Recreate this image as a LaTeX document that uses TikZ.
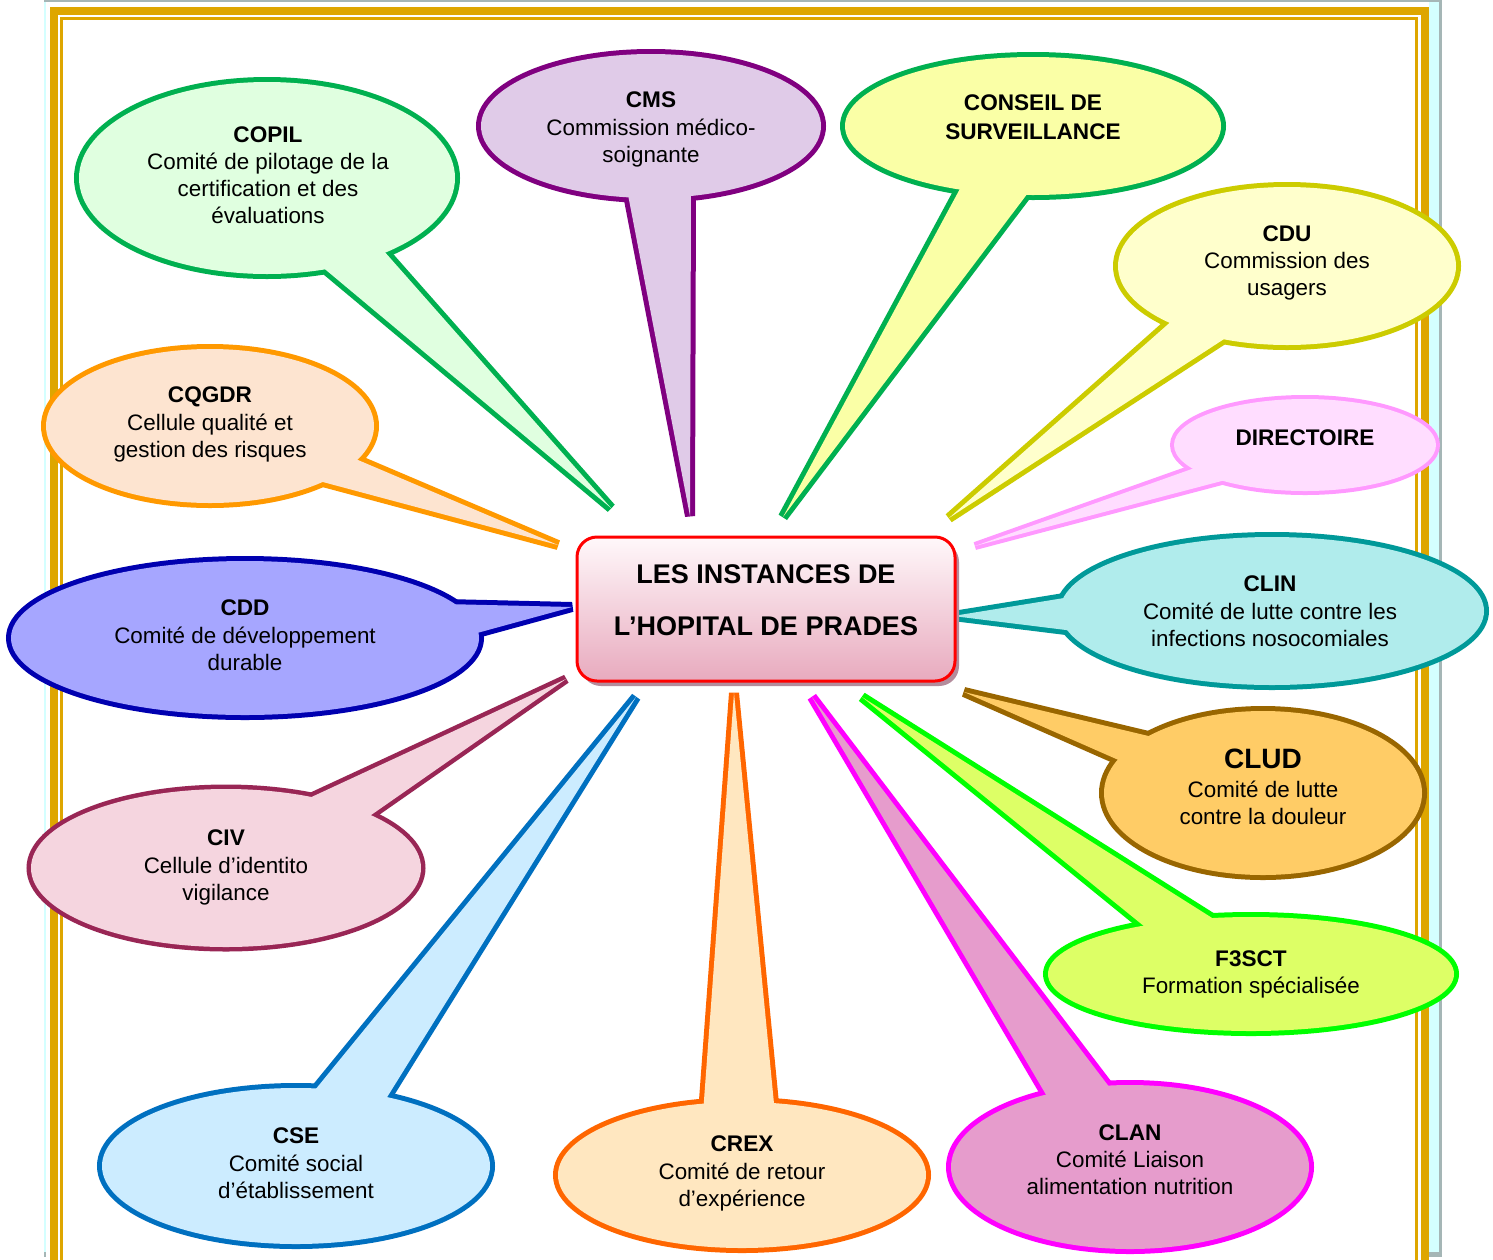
\documentclass[tikz,border=0pt]{standalone}
\usepackage{fontspec}
\setmainfont{Liberation Sans}
\usetikzlibrary{calc,shadows}

\definecolor{gold}{RGB}{222,166,0}
\definecolor{pagecyan}{RGB}{212,255,255}
\definecolor{pagegray}{RGB}{165,182,182}
\definecolor{cGreen}{RGB}{0,176,80}
\definecolor{fCopil}{RGB}{224,255,224}
\definecolor{cPurple}{RGB}{128,0,128}
\definecolor{fCms}{RGB}{224,203,232}
\definecolor{fConseil}{RGB}{250,255,166}
\definecolor{cCdu}{RGB}{204,204,0}
\definecolor{fCdu}{RGB}{255,255,204}
\definecolor{cDir}{RGB}{255,153,255}
\definecolor{fDir}{RGB}{255,221,255}
\definecolor{cClin}{RGB}{0,153,153}
\definecolor{fClin}{RGB}{176,236,236}
\definecolor{cClud}{RGB}{153,102,0}
\definecolor{fClud}{RGB}{255,204,102}
\definecolor{cF3}{RGB}{0,255,0}
\definecolor{fF3}{RGB}{221,255,102}
\definecolor{cClan}{RGB}{255,0,255}
\definecolor{fClan}{RGB}{230,156,204}
\definecolor{cCrex}{RGB}{255,102,0}
\definecolor{fCrex}{RGB}{255,231,192}
\definecolor{cCse}{RGB}{0,112,192}
\definecolor{fCse}{RGB}{204,236,255}
\definecolor{cCiv}{RGB}{153,38,85}
\definecolor{fCiv}{RGB}{245,213,223}
\definecolor{cCdd}{RGB}{0,0,176}
\definecolor{fCdd}{RGB}{166,166,255}
\definecolor{cCq}{RGB}{255,153,0}
\definecolor{fCq}{RGB}{253,228,208}
\definecolor{hubTop}{RGB}{255,248,250}
\definecolor{hubBot}{RGB}{232,170,190}
\definecolor{hubShadow}{RGB}{180,140,156}

% #1 centre, #2 rx, #3 ry, #4 tip, #5 #6 base angles, #7 stroke, #8 fill, #9 doubled width
\newcommand\bubble[9]{%
  \coordinate (bA) at ($#1+({#2*cos(#5)},{#3*sin(#5)})$);
  \coordinate (bB) at ($#1+({#2*cos(#6)},{#3*sin(#6)})$);
  \coordinate (qA) at ($#4!1.15!(bA)$);
  \coordinate (qB) at ($#4!1.15!(bB)$);
  \draw[draw=#7, line width=#9] #1 ellipse[x radius=#2, y radius=#3];
  \draw[draw=#7, line width=#9, line join=bevel] #4 -- (qA) -- (qB) -- cycle;
  \fill[#8] #4 -- (qA) -- (qB) -- cycle;
  \fill[#8] #1 ellipse[x radius=#2, y radius=#3];
}

\tikzset{
  ttl/.style={anchor=base, inner sep=0pt, font=\fontsize{11.3}{13}\selectfont\bfseries},
  bdy/.style={anchor=base, inner sep=0pt, font=\fontsize{11.2}{13}\selectfont},
  hubtxt/.style={anchor=base, inner sep=0pt, font=\fontsize{13.5}{16}\selectfont\bfseries},
  hubbox/.style={draw=red, line width=1.5pt, rounded corners=10pt,
    minimum width=189pt, minimum height=72pt, inner sep=0pt,
    top color=hubTop, bottom color=hubBot,
    drop shadow={shadow xshift=2pt, shadow yshift=-2.5pt, fill=hubShadow, opacity=1}}
}

\begin{document}
\begin{tikzpicture}[x=0.5pt,y=-0.5pt]
\useasboundingbox (0,0) rectangle (1493,1259);

% page / frame
\fill[pagegray] (44,0) rectangle (1442,1257);
\fill[pagecyan] (44,2) rectangle (1439,1252);
\fill[white] (46,2) rectangle (1429,1270);
\draw[gold, line width=4pt] (54,1300) -- (54,11) -- (1425,11) -- (1425,1300);
\draw[gold, line width=1.5pt] (61,1300) -- (61,18.5) -- (1416.5,18.5) -- (1416.5,1300);

% centres and tips
\coordinate (copil) at (267,178);   \coordinate (copil-tip) at (611,508);
\coordinate (cms) at (651,126);     \coordinate (cms-tip) at (690,516);
\coordinate (conseil) at (1033,126);\coordinate (conseil-tip) at (783,517);
\coordinate (cdu) at (1287,266);    \coordinate (cdu-tip) at (949,518);
\coordinate (dir) at (1305,445);    \coordinate (dir-tip) at (975,546);
\coordinate (clin) at (1272,611);   \coordinate (clin-tip) at (953,616);
\coordinate (clud) at (1263,793);   \coordinate (clud-tip) at (964,692);
\coordinate (f3) at (1251,974);     \coordinate (f3-tip) at (862,697);
\coordinate (clan) at (1130,1167);  \coordinate (clan-tip) at (812,697);
\coordinate (crex) at (742,1175);   \coordinate (crex-tip) at (734,693);
\coordinate (cse) at (296,1166);    \coordinate (cse-tip) at (636,697);
\coordinate (civ) at (226,868);     \coordinate (civ-tip) at (566,679);
\coordinate (cdd) at (245,638);     \coordinate (cdd-tip) at (572,607);
\coordinate (cq) at (210,426);      \coordinate (cq-tip) at (558,545);

\bubble{(copil)}{188}{96}{(copil-tip)}{51}{72}{cGreen}{fCopil}{5pt}
\bubble{(cms)}{170}{72}{(cms-tip)}{97.6}{76.4}{cPurple}{fCms}{5pt}
\bubble{(conseil)}{188}{69}{(conseil-tip)}{113}{92}{cGreen}{fConseil}{5pt}
\bubble{(cdu)}{169}{79}{(cdu-tip)}{134}{112}{cCdu}{fCdu}{5pt}
\bubble{(dir)}{131}{46}{(dir-tip)}{149}{129}{cDir}{fDir}{4pt}
\bubble{(clin)}{212}{74}{(clin-tip)}{190}{165}{cClin}{fClin}{5pt}
\bubble{(clud)}{159}{82}{(clud-tip)}{224}{204}{cClud}{fClud}{5pt}
\bubble{(f3)}{203}{57}{(f3-tip)}{238}{259}{cF3}{fF3}{5pt}
\bubble{(clan)}{179}{82}{(clan-tip)}{242}{263}{cClan}{fClan}{5pt}
\bubble{(crex)}{184}{73}{(crex-tip)}{258}{280}{cCrex}{fCrex}{5pt}
\bubble{(cse)}{194}{78}{(cse-tip)}{276}{298}{cCse}{fCse}{5pt}
\bubble{(civ)}{195}{79}{(civ-tip)}{296}{318}{cCiv}{fCiv}{4.5pt}
\bubble{(cdd)}{234}{77}{(cdd-tip)}{334}{356}{cCdd}{fCdd}{5pt}
\bubble{(cq)}{164}{77}{(cq-tip)}{26}{46.6}{cCq}{fCq}{5pt}

% central box
\node[hubbox] (hub) at (766,609) {};
\node[hubtxt] (hub-1) at (766,583) {LES INSTANCES DE};
\node[hubtxt] (hub-2) at (766,635) {L’HOPITAL DE PRADES};

% texts
\node[ttl] (copil-t) at (268,142) {COPIL};
\node[bdy] (copil-1) at (268,169) {Comité de pilotage de la};
\node[bdy] (copil-2) at (268,196) {certification et des};
\node[bdy] (copil-3) at (268,223) {évaluations};

\node[ttl] (cms-t) at (651,107) {CMS};
\node[bdy] (cms-1) at (651,135) {Commission médico-};
\node[bdy] (cms-2) at (651,162) {soignante};

\node[ttl] (conseil-t) at (1033,110) {CONSEIL DE};
\node[ttl] (conseil-t2) at (1033,139) {SURVEILLANCE};

\node[ttl] (cdu-t) at (1287,241) {CDU};
\node[bdy] (cdu-1) at (1287,268) {Commission des};
\node[bdy] (cdu-2) at (1287,295) {usagers};

\node[ttl] (dir-t) at (1305,445) {DIRECTOIRE};

\node[ttl] (clin-t) at (1270,591) {CLIN};
\node[bdy] (clin-1) at (1270,619) {Comité de lutte contre les};
\node[bdy] (clin-2) at (1270,646) {infections nosocomiales};

\node[ttl, font=\fontsize{14}{16}\selectfont\bfseries] (clud-t) at (1263,768) {CLUD};
\node[bdy] (clud-1) at (1263,797) {Comité de lutte};
\node[bdy] (clud-2) at (1263,824) {contre la douleur};

\node[ttl] (f3-t) at (1251,966) {F3SCT};
\node[bdy] (f3-1) at (1251,993) {Formation spécialisée};

\node[ttl] (clan-t) at (1130,1140) {CLAN};
\node[bdy] (clan-1) at (1130,1167) {Comité Liaison};
\node[bdy] (clan-2) at (1130,1194) {alimentation nutrition};

\node[ttl] (crex-t) at (742,1151) {CREX};
\node[bdy] (crex-1) at (742,1179) {Comité de retour};
\node[bdy] (crex-2) at (742,1206) {d’expérience};

\node[ttl] (cse-t) at (296,1143) {CSE};
\node[bdy] (cse-1) at (296,1171) {Comité social};
\node[bdy] (cse-2) at (296,1198) {d’établissement};

\node[ttl] (civ-t) at (226,845) {CIV};
\node[bdy] (civ-1) at (226,873) {Cellule d’identito};
\node[bdy] (civ-2) at (226,900) {vigilance};

\node[ttl] (cdd-t) at (245,615) {CDD};
\node[bdy] (cdd-1) at (245,643) {Comité de développement};
\node[bdy] (cdd-2) at (245,670) {durable};

\node[ttl] (cq-t) at (210,402) {CQGDR};
\node[bdy] (cq-1) at (210,430) {Cellule qualité et};
\node[bdy] (cq-2) at (210,457) {gestion des risques};
\end{tikzpicture}
\end{document}
